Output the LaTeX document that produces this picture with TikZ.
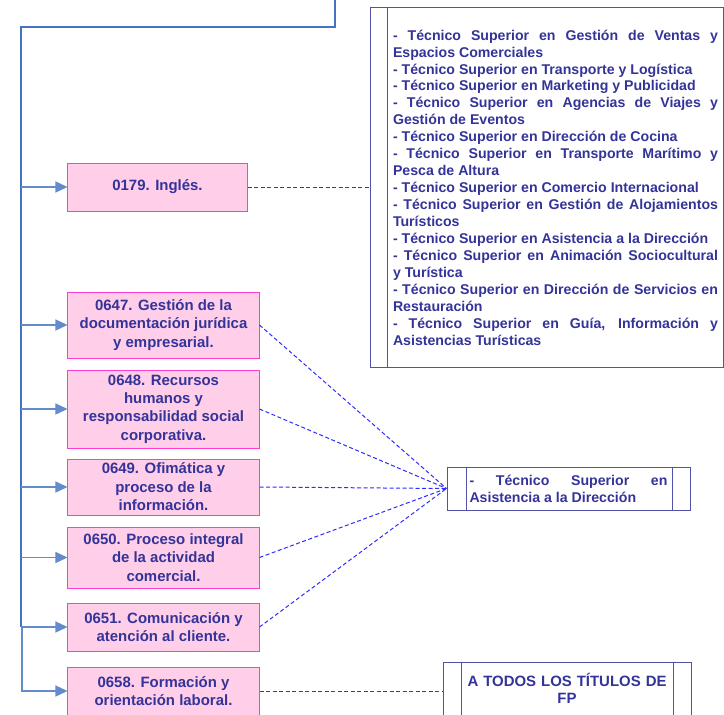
\documentclass[tikz,border=0pt]{standalone}
\usepackage{fontspec}
\setmainfont{Liberation Sans}
\usepackage{tikz}
\usetikzlibrary{arrows.meta}
\definecolor{trunkblue}{RGB}{70,114,196}
\definecolor{branchblue}{RGB}{100,140,205}
\definecolor{modfill}{RGB}{255,206,232}
\definecolor{modline}{RGB}{255,60,210}
\definecolor{ink}{RGB}{51,51,153}
\definecolor{linkblue}{RGB}{45,45,255}
\newcommand{\sidebar}[3] % node, side (west/east), shift in bp
{
	% inner bar of a title box
	\draw[frame] ([xshift=#3]#1.north #2) -- ([xshift=#3]#1.south #2);
}

\begin{document}
\begin{tikzpicture}[x=1bp, y=-1bp,
	trunk/.style={draw=trunkblue, line width=2bp},
	branch/.style={draw=branchblue, line width=1.3bp, -{Triangle[length=12bp,width=11bp]}},
	modulo/.style={draw=modline, fill=modfill, line width=1bp, text=ink, inner sep=0pt,
		font=\fontsize{15}{18.5}\selectfont\bfseries, align=center, minimum width=191bp},
	frame/.style={draw=ink!85, line width=1bp},
	titles/.style={frame, text=ink, inner sep=0pt, font=\fontsize{14.2}{17}\selectfont\bfseries},
	link/.style={draw=linkblue, line width=1bp, dash pattern=on 4bp off 2.5bp}]
	% 724 x 715 px, y downwards
	\useasboundingbox (0,0) rectangle (724,715);
	\clip (0,0) rectangle (724,715);
	% modules
	\node[modulo, minimum width=179bp, minimum height=48bp] (b0179) at (157.5,187) {0179. Inglés.};
	\node[modulo, minimum height=66bp] (b0647) at (163.5,325) {0647. Gestión de la\\documentación jurídica\\y empresarial.};
	\node[modulo, minimum height=78bp] (b0648) at (163.5,409) {0648. Recursos\\humanos y\\responsabilidad social\\corporativa.};
	\node[modulo, minimum height=56bp] (b0649) at (163.5,487) {0649. Ofimática y\\proceso de la\\información.};
	\node[modulo, minimum height=61bp] (b0650) at (163.5,557.5) {0650. Proceso integral\\de la actividad\\comercial.};
	\node[modulo, minimum height=48bp] (b0651) at (163.5,627) {0651. Comunicación y\\atención al cliente.};
	\node[modulo, minimum height=48bp] (b0658) at (163.5,691) {0658. Formación y\\orientación laboral.};
	% titles
	\node[titles, minimum width=353bp, minimum height=359bp] (list) at (546.5,187.5)
	{\hspace*{18bp}\parbox{325bp}{\hyphenpenalty=10000\exhyphenpenalty=10000
		- Técnico Superior en Gestión de Ventas y\linebreak Espacios Comerciales\par
		- Técnico Superior en Transporte y Logística\par
		- Técnico Superior en Marketing y Publicidad\par
		- Técnico Superior en Agencias de Viajes y\linebreak Gestión de Eventos\par
		- Técnico Superior en Dirección de Cocina\par
		- Técnico Superior en Transporte Marítimo y\linebreak Pesca de Altura\par
		- Técnico Superior en Comercio Internacional\par
		- Técnico Superior en Gestión de Alojamientos\linebreak Turísticos\par
		- Técnico Superior en Asistencia a la Dirección\par
		- Técnico Superior en Animación Sociocultural\linebreak y Turística\par
		- Técnico Superior en Dirección de Servicios en\linebreak Restauración\par
		- Técnico Superior en Guía, Información y\linebreak Asistencias Turísticas}};
	\node[titles, minimum width=243bp, minimum height=43bp] (asis) at (568.5,488.5)
	{\parbox{198bp}{\hyphenpenalty=10000
		- Técnico Superior en\linebreak Asistencia a la Dirección}};
	\node[titles, font=\fontsize{15}{18}\selectfont\bfseries, anchor=north, minimum width=248bp,
		text width=200bp, align=center, text height=14bp, text depth=60bp, inner ysep=9.5bp]
		(all) at (567,662) {A TODOS LOS TÍTULOS DE\\FP};
	\sidebar{list}{west}{18bp}
	\sidebar{asis}{west}{20bp}
	\sidebar{asis}{east}{-18bp}
	\sidebar{all}{west}{19bp}
	\sidebar{all}{east}{-18bp}
	% tree
	\coordinate (top) at (335,0);
	\coordinate (elbow) at (21,27);
	\draw[trunk] (top) |- (elbow) -- (elbow |- b0651.west);
	\draw[branch] (elbow |- b0179.west) -- (b0179.west);
	\draw[branch] (elbow |- b0647.west) -- (b0647.west);
	\draw[branch] (elbow |- b0648.west) -- (b0648.west);
	\draw[branch] (elbow |- b0649.west) -- (b0649.west);
	\draw[branch] (elbow |- b0650.west) -- (b0650.west);
	\draw[branch] (elbow |- b0651.west) -- (b0651.west);
	\draw[branch] ([xshift=1bp]elbow |- b0651.west) |- (b0658.west);
	% links to titles
	\draw[link] (b0179.east) -- (b0179.east -| list.west);
	\draw[link] (b0647.east) -- (asis.west);
	\draw[link] (b0648.east) -- (asis.west);
	\draw[link] (b0649.east) -- (asis.west);
	\draw[link] (b0650.east) -- (asis.west);
	\draw[link] (b0651.east) -- (asis.west);
	\draw[link] (b0658.east) -- (b0658.east -| all.west);
\end{tikzpicture}
\end{document}
